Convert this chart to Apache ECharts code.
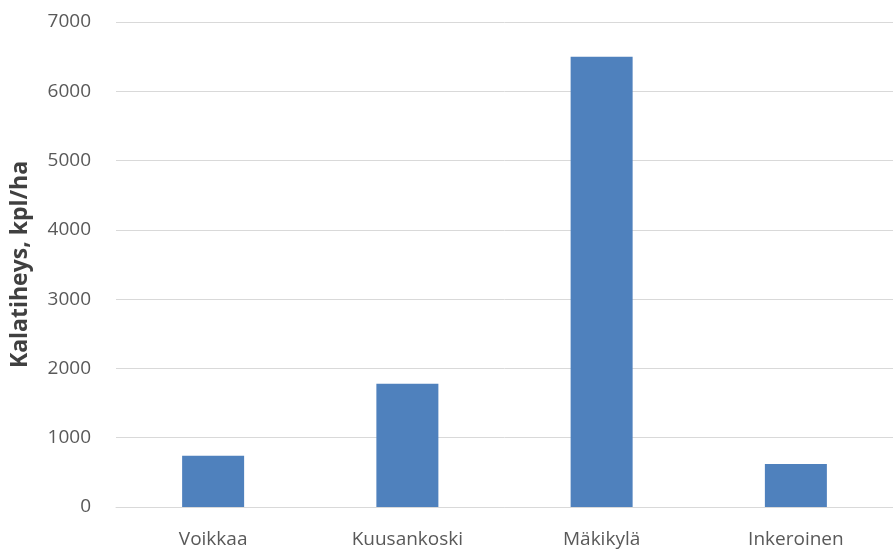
<!DOCTYPE html>
<html>
<head>
<meta charset="utf-8">
<script src="https://cdn.jsdelivr.net/npm/echarts@6/dist/echarts.min.js"></script>
<style>
  html, body { margin: 0; padding: 0; background: #fff; }
  #chart { width: 893px; height: 549px; }
</style>
</head>
<body>
<div id="chart"></div>
<script>
// Fish density per site
const sites = ['Voikkaa', 'Kuusankoski', 'Mäkikylä', 'Inkeroinen'];
const density = [740, 1780, 6500, 620];
const yTicks = [0, 1000, 2000, 3000, 4000, 5000, 6000, 7000];

const chart = echarts.init(document.getElementById('chart'));
chart.setOption({
  animation: false,
  textStyle: { fontFamily: 'Open Sans, sans-serif' },
  grid: { left: 116, top: 22, width: 789, height: 485 },
  xAxis: {
    type: 'category',
    data: sites,
    axisLine: { show: true, lineStyle: { color: '#d9d9d9', width: 1 } },
    axisTick: { show: false },
    axisLabel: { color: '#595959', fontSize: 19, margin: 23 }
  },
  yAxis: {
    type: 'value',
    min: yTicks[0],
    max: yTicks[yTicks.length - 1],
    interval: 1000,
    name: 'Kalatiheys, kpl/ha',
    nameLocation: 'middle',
    nameGap: 84,
    nameTextStyle: { color: '#404040', fontSize: 23, fontWeight: 'bold' },
    axisLine: { show: false },
    axisTick: { show: false },
    axisLabel: { color: '#595959', fontSize: 19, margin: 25, formatter: v => String(v) },
    splitLine: { lineStyle: { color: '#d9d9d9', width: 1 } }
  },
  series: [{
    type: 'bar',
    data: density,
    barWidth: 62,
    itemStyle: { color: '#4f81bd' }
  }]
});
</script>
</body>
</html>
